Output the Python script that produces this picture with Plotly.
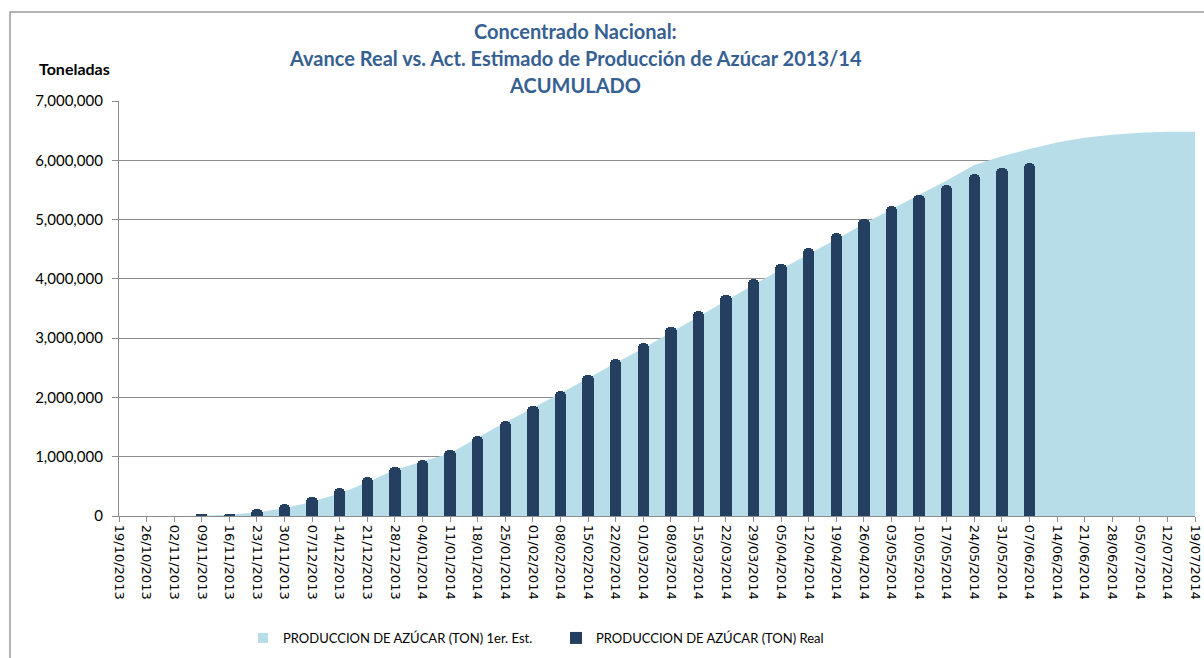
import plotly.graph_objects as go

week_dates = [
    "2013-10-19", "2013-10-26", "2013-11-02", "2013-11-09", "2013-11-16", "2013-11-23",
    "2013-11-30", "2013-12-07", "2013-12-14", "2013-12-21", "2013-12-28", "2014-01-04",
    "2014-01-11", "2014-01-18", "2014-01-25", "2014-02-01", "2014-02-08", "2014-02-15",
    "2014-02-22", "2014-03-01", "2014-03-08", "2014-03-15", "2014-03-22", "2014-03-29",
    "2014-04-05", "2014-04-12", "2014-04-19", "2014-04-26", "2014-05-03", "2014-05-10",
    "2014-05-17", "2014-05-24", "2014-05-31", "2014-06-07", "2014-06-14", "2014-06-21",
    "2014-06-28", "2014-07-05", "2014-07-12", "2014-07-19",
]

estimado_ton = [
    0, 0, 0, 5000, 20000, 60000,
    130000, 240000, 380000, 570000, 780000, 920000,
    1060000, 1320000, 1580000, 1820000, 2070000, 2325000,
    2580000, 2830000, 3095000, 3360000, 3630000, 3900000,
    4160000, 4420000, 4670000, 4930000, 5175000, 5420000,
    5660000, 5920000, 6070000, 6190000, 6300000, 6380000,
    6430000, 6465000, 6480000, 6480000,
]

real_dates = [
    "2013-11-09", "2013-11-16", "2013-11-23", "2013-11-30", "2013-12-07", "2013-12-14",
    "2013-12-21", "2013-12-28", "2014-01-04", "2014-01-11", "2014-01-18", "2014-01-25",
    "2014-02-01", "2014-02-08", "2014-02-15", "2014-02-22", "2014-03-01", "2014-03-08",
    "2014-03-15", "2014-03-22", "2014-03-29", "2014-04-05", "2014-04-12", "2014-04-19",
    "2014-04-26", "2014-05-03", "2014-05-10", "2014-05-17", "2014-05-24", "2014-05-31",
    "2014-06-07",
]

real_ton = [
    30000, 40000, 110000, 195000, 320000, 475000,
    660000, 835000, 945000, 1120000, 1355000, 1605000,
    1850000, 2105000, 2370000, 2645000, 2910000, 3180000,
    3455000, 3725000, 3990000, 4250000, 4520000, 4775000,
    5010000, 5225000, 5410000, 5590000, 5765000, 5875000,
    5950000,
]

title_lines = [
    "Concentrado Nacional:",
    "Avance Real vs. Act. Estimado de Producción de Azúcar 2013/14",
    "ACUMULADO",
]

name_est = "PRODUCCION DE AZÚCAR (TON) 1er. Est."
name_real = "PRODUCCION DE AZÚCAR (TON) Real"

AREA_COLOR = "#B7DDE8"
BAR_COLOR = "#243F60"
TITLE_COLOR = "#376092"
GRID = "#8C8C8C"
FONT = "Lato, Carlito, Calibri, sans-serif"

X_RANGE = ["2013-10-19", "2014-07-19"]
Y_RANGE = [0, 7000000]

fig = go.Figure()
fig.add_trace(go.Scatter(
    x=week_dates, y=estimado_ton, name=name_est, mode="none",
    fill="tozeroy", fillcolor=AREA_COLOR, showlegend=False,
))
fig.add_trace(go.Bar(
    x=real_dates, y=real_ton, name=name_real, xaxis="x2", yaxis="y2",
    width=2.5e8, showlegend=False,
    marker=dict(color=BAR_COLOR, cornerradius=5, line=dict(width=0)),
))
# legend entries
fig.add_trace(go.Scatter(
    x=[None], y=[None], name=name_est, mode="markers",
    marker=dict(symbol="square", size=10, color=AREA_COLOR),
))
fig.add_trace(go.Scatter(
    x=[None], y=[None], name=name_real, mode="markers",
    marker=dict(symbol="square", size=12, color=BAR_COLOR),
))

# plot area geometry (pixels)
L, R, T, B = 119, 1195, 101, 516
W, H = R - L, B - T

def px_x(px):
    return (px - L) / W

def px_y(py):
    return (B - py) / H

annotations = []
for line, py in zip(title_lines, [31, 58, 85]):
    annotations.append(dict(
        text="<b>%s</b>" % line, x=px_x(575), y=px_y(py), xref="paper", yref="paper",
        xanchor="center", yanchor="middle", showarrow=False,
        font=dict(family=FONT, size=20, color=TITLE_COLOR),
    ))
annotations.append(dict(
    text="<b>Toneladas</b>", x=px_x(74), y=px_y(68), xref="paper", yref="paper",
    xanchor="center", yanchor="middle", showarrow=False,
    font=dict(family=FONT, size=16, color="#000000"),
))

fig.update_layout(
    width=1204, height=658,
    margin=dict(l=L, r=1204 - R, t=T, b=658 - B, autoexpand=False),
    paper_bgcolor="white", plot_bgcolor="white",
    showlegend=True,
    legend=dict(
        orientation="h", xref="container", yref="container",
        x=243 / 1204, y=(658 - 638) / 658, xanchor="left", yanchor="middle",
        font=dict(family=FONT, size=13, color="#000000"),
        entrywidth=268, entrywidthmode="pixels",
        traceorder="normal",
    ),
    annotations=annotations,
    bargap=0,
    shapes=[dict(
        type="rect", xref="paper", yref="paper",
        x0=px_x(10), x1=px_x(1260), y0=px_y(720), y1=px_y(12),
        line=dict(color="#9A9A9A", width=1.5), fillcolor="rgba(0,0,0,0)", layer="below",
    )],
)

fig.update_layout(
    xaxis=dict(
        type="date", range=X_RANGE,
        tick0="2013-10-19", dtick=7 * 24 * 3600 * 1000, tickformat="%d/%m/%Y",
        tickangle=90, ticks="outside", ticklen=5, tickcolor="#8C8C8C",
        showline=True, linecolor="#8C8C8C", linewidth=1.3, showgrid=False, zeroline=False,
        tickfont=dict(family="DejaVu Sans", size=13, color="#000000"),
    ),
    yaxis=dict(
        range=Y_RANGE, dtick=1000000, tickformat=",", ticks="outside", ticklen=6,
        tickcolor="#8C8C8C", showline=True, linecolor="#8C8C8C", linewidth=1.3,
        showgrid=True, gridcolor=GRID, gridwidth=1, zeroline=False,
        tickfont=dict(family=FONT, size=15, color="#000000"), ticklabelstandoff=6,
    ),
    xaxis2=dict(type="date", range=X_RANGE, overlaying="x", visible=False),
    yaxis2=dict(range=Y_RANGE, overlaying="y", visible=False),
)

fig.write_html(
    "out.html",
    config={"displayModeBar": False},
    post_script="document.body.style.margin='0';document.body.style.padding='0';",
)
